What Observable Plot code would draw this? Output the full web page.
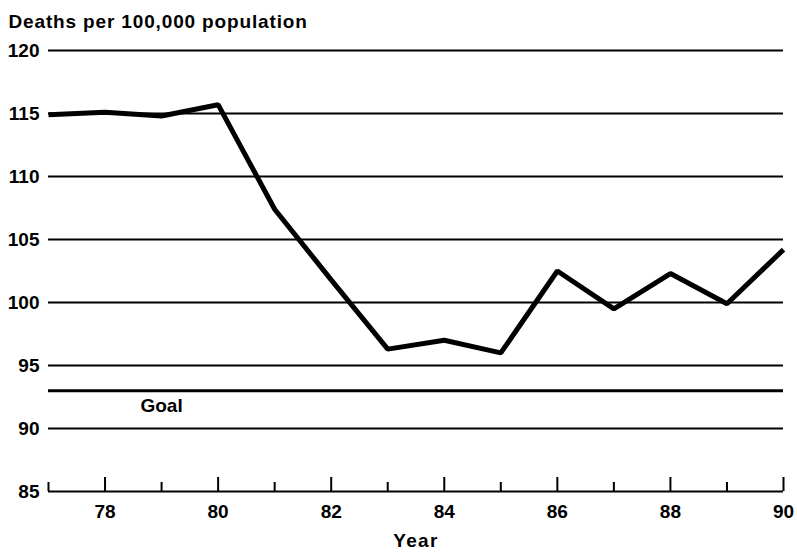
<!DOCTYPE html>
<html>
<head>
<meta charset="utf-8">
<script src="https://cdn.jsdelivr.net/npm/d3@7"></script>
<script src="https://cdn.jsdelivr.net/npm/@observablehq/plot@0.6"></script>
<style>
  html, body { margin: 0; padding: 0; background: #fff; }
  svg { display: block; }
  .spaced text { letter-spacing: 1.3px; }
  .title text { letter-spacing: 0.85px; }
</style>
</head>
<body>
<div id="chart"></div>
<script>
// Data
const years = [77, 78, 79, 80, 81, 82, 83, 84, 85, 86, 87, 88, 89, 90];
const deaths = [114.9, 115.1, 114.8, 115.7, 107.4, 101.8, 96.3, 97.0, 96.0, 102.5, 99.5, 102.3, 99.9, 104.2];
const goal = 93;
const yTicks = [85, 90, 95, 100, 105, 110, 115, 120];
const gridLines = [90, 95, 100, 105, 110, 115, 120];
const majorYears = [78, 80, 82, 84, 86, 88, 90];
const minorYears = [77, 79, 81, 83, 85, 87, 89];
const yLabel = "Deaths per 100,000 population";
const xLabel = "Year";
const goalLabel = "Goal";

const data = years.map((y, i) => ({year: y, value: deaths[i]}));

const W = 797, H = 552;
const mTop = 50, mBottom = 61, mLeft = 48, mRight = 14;
const innerH = H - mTop - mBottom;
const font = "'Liberation Sans', Arial, Helvetica, sans-serif";

const chart = Plot.plot({
  width: W,
  height: H,
  marginTop: mTop,
  marginBottom: mBottom,
  marginLeft: mLeft,
  marginRight: mRight,
  style: {fontFamily: font, background: "#fff", color: "#000"},
  x: {domain: [77, 90]},
  y: {domain: [85, 120]},
  marks: [
    Plot.ruleY(gridLines, {stroke: "#000", strokeWidth: 2}),
    Plot.ruleY([goal], {stroke: "#000", strokeWidth: 3}),
    Plot.ruleY([85], {stroke: "#000", strokeWidth: 2}),
    Plot.tickX(majorYears, {x: d => d, stroke: "#000", strokeWidth: 2, insetTop: innerH - 14}),
    Plot.tickX(minorYears, {x: d => d, stroke: "#000", strokeWidth: 2, insetTop: innerH - 9}),
    Plot.line(data, {x: "year", y: "value", stroke: "#000", strokeWidth: 5, strokeLinejoin: "miter", strokeLinecap: "butt"}),
    Plot.text([goalLabel], {x: 79, y: goal, dy: 15, text: d => d, fontSize: 19, fontWeight: "bold", fill: "#000"}),
    Plot.axisY({ticks: yTicks, tickSize: 0, tickPadding: 9, fontSize: 19, fontWeight: "bold", label: null, tickFormat: d => String(d)}),
    Plot.axisX({ticks: majorYears, tickSize: 0, tickPadding: 13, fontSize: 19, fontWeight: "bold", label: null, tickFormat: d => String(d)}),
    Plot.text([xLabel], {frameAnchor: "bottom", lineAnchor: "middle", dy: 49, text: d => d, fontSize: 19, fontWeight: "bold", fill: "#000", className: "spaced"}),
    Plot.text([yLabel], {frameAnchor: "top-left", lineAnchor: "middle", dx: -40, dy: -29, textAnchor: "start", text: d => d, fontSize: 19, fontWeight: "bold", fill: "#000", className: "title"})
  ]
});

document.getElementById("chart").appendChild(chart);
</script>
</body>
</html>
